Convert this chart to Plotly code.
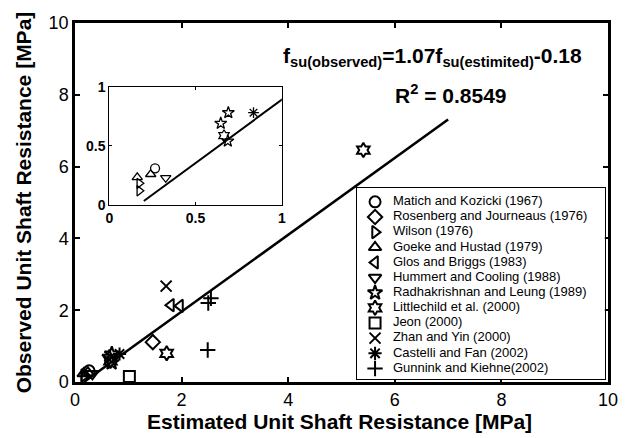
import plotly.graph_objects as go

# ---- data ----
names = ["Matich and Kozicki (1967)", "Rosenberg and Journeaus (1976)", "Wilson (1976)",
         "Goeke and Hustad (1979)", "Glos and Briggs (1983)", "Hummert and Cooling (1988)",
         "Radhakrishnan and Leung (1989)", "Littlechild et al. (2000)", "Jeon (2000)",
         "Zhan and Yin (2000)", "Castelli and Fan (2002)", "Gunnink and Kiehne(2002)"]
symbols = ["circle-open", "diamond-open", "triangle-right-open", "triangle-up-open",
           "triangle-left-open", "triangle-down-open", "star-open", "hexagram-open",
           "square-open", "x-thin-open", "asterisk-open", "cross-thin-open"]

matich_x = [0.265];               matich_y = [0.31]
rosenberg_x = [1.46];             rosenberg_y = [1.11]
wilson_x = [0.174, 0.174];        wilson_y = [0.183, 0.12]
goeke_x = [0.162, 0.24];          goeke_y = [0.234, 0.26]
glos_x = [1.80, 1.97];            glos_y = [2.14, 2.12]
hummert_x = [0.327];              hummert_y = [0.23]
radha_x = [0.69, 0.646, 0.687];   radha_y = [0.78, 0.69, 0.54]
little_x = [0.665, 1.72, 5.41];   little_y = [0.586, 0.80, 6.46]
jeon_x = [1.02];                  jeon_y = [0.15]
zhan_x = [1.71];                  zhan_y = [2.67]
castelli_x = [0.836];             castelli_y = [0.78]
gunnink_x = [2.50, 2.55, 2.49];   gunnink_y = [2.20, 2.33, 0.89]

xdata = [matich_x, rosenberg_x, wilson_x, goeke_x, glos_x, hummert_x,
         radha_x, little_x, jeon_x, zhan_x, castelli_x, gunnink_x]
ydata = [matich_y, rosenberg_y, wilson_y, goeke_y, glos_y, hummert_y,
         radha_y, little_y, jeon_y, zhan_y, castelli_y, gunnink_y]

fit_slope = 1.07
fit_intercept = -0.18
fit_x = [0.2, 7.0]
fit_y = [fit_slope * v + fit_intercept for v in fit_x]

main_ticks = [0, 2, 4, 6, 8, 10]
inset_ticks = [0, 0.5, 1]
inset_ticktext = ["<b>0</b>", "<b>0.5</b>", "<b>1</b>"]
inset_max = 1.0

x_title = "Estimated Unit Shaft Resistance [MPa]"
y_title = "Observed Unit Shaft Resistance [MPa]"

FONT = "Liberation Sans, Arial, sans-serif"

fig = go.Figure()

# fit line (main + inset)
fig.add_trace(go.Scatter(x=fit_x, y=fit_y, mode="lines", line=dict(color="black", width=2.6),
                         showlegend=False, hoverinfo="skip", xaxis="x", yaxis="y"))
fig.add_trace(go.Scatter(x=fit_x, y=fit_y, mode="lines", line=dict(color="black", width=2),
                         showlegend=False, hoverinfo="skip", xaxis="x2", yaxis="y2"))

for nm, sym, xs, ys in zip(names, symbols, xdata, ydata):
    fig.add_trace(go.Scatter(x=xs, y=ys, mode="markers", name=nm, showlegend=False,
                             marker=dict(symbol=sym, size=11, color="black",
                                         line=dict(color="black", width=2)),
                             xaxis="x", yaxis="y"))
    ins = [(a, b) for a, b in zip(xs, ys) if a <= inset_max and b <= inset_max]
    if ins:
        fig.add_trace(go.Scatter(x=[p[0] for p in ins], y=[p[1] for p in ins], mode="markers",
                                 name=nm, showlegend=False,
                                 marker=dict(symbol=sym, size=9, color="black",
                                             line=dict(color="black", width=1.3)),
                                 xaxis="x2", yaxis="y2"))

# compact legend drawn on its own axes
leg_idx = list(range(len(names)))
fig.add_trace(go.Scatter(x=[0.073] * len(names), y=leg_idx, mode="markers", showlegend=False,
                         hoverinfo="skip",
                         marker=dict(symbol=symbols, size=11, color="black",
                                     line=dict(color="black", width=2)),
                         xaxis="x3", yaxis="y3"))
fig.add_trace(go.Scatter(x=[0.145] * len(names), y=leg_idx, mode="text", text=names,
                         textposition="middle right", showlegend=False, hoverinfo="skip",
                         textfont=dict(family=FONT, size=13, color="black"),
                         xaxis="x3", yaxis="y3"))

axis_common = dict(showgrid=False, zeroline=False, showline=True, linecolor="black",
                   mirror="ticks", ticks="inside", tickcolor="black", automargin=False)

# the page body adds an 8px margin, so the figure is offset by 8px
fig.update_layout(
    width=613, height=430,
    margin=dict(l=67, r=13, t=15, b=56),
    paper_bgcolor="white", plot_bgcolor="white",
    font=dict(family=FONT, color="black"),
    xaxis=dict(axis_common, domain=[0, 1], range=[0, 10], tickvals=main_ticks,
               linewidth=2.5, ticklen=5, tickwidth=1.5,
               tickfont=dict(size=18, family=FONT)),
    yaxis=dict(axis_common, domain=[0, 1], range=[0, 10], tickvals=main_ticks,
               linewidth=2.5, ticklen=5, tickwidth=1.5,
               tickfont=dict(size=18, family=FONT),
               title=dict(text="<b>" + y_title + "</b>",
                          font=dict(size=21, family=FONT), standoff=12)),
    xaxis2=dict(axis_common, domain=[0.0644, 0.388], anchor="y2", range=[0, 1],
                tickvals=inset_ticks, ticktext=inset_ticktext, linewidth=1, ticklen=3,
                tickfont=dict(size=14, family=FONT)),
    yaxis2=dict(axis_common, domain=[0.493, 0.8226], anchor="x2", range=[0, 1],
                tickvals=inset_ticks, ticktext=inset_ticktext, linewidth=1, ticklen=3,
                tickfont=dict(size=14, family=FONT)),
    xaxis3=dict(domain=[0.529, 0.994], anchor="y3", range=[0, 1], showgrid=False,
                zeroline=False, showticklabels=False, ticks="", showline=True,
                mirror=True, linecolor="black", linewidth=1, fixedrange=True,
                automargin=False),
    yaxis3=dict(domain=[0.008, 0.540], anchor="x3", range=[11.706, -0.905], showgrid=False,
                zeroline=False, showticklabels=False, ticks="", showline=True,
                mirror=True, linecolor="black", linewidth=1, fixedrange=True,
                automargin=False),
    annotations=[
        dict(xref="paper", yref="paper", x=0.497, y=-0.11, xanchor="center", yanchor="middle",
             showarrow=False, text="<b>" + x_title + "</b>",
             font=dict(size=21, family=FONT, color="black")),
        dict(xref="paper", yref="paper", x=0.955, y=0.905, xanchor="right", yanchor="middle",
             showarrow=False,
             text="<b>f<sub>su(observed)</sub>=1.07f<sub>su(estimited)</sub>-0.18</b>",
             font=dict(size=21, family=FONT, color="black")),
        dict(xref="paper", yref="paper", x=0.5966, y=0.802, xanchor="left", yanchor="middle",
             showarrow=False, text="<b>R<sup>2</sup> = 0.8549</b>",
             font=dict(size=21, family=FONT, color="black")),
    ],
)

fig.write_html("out.html")
